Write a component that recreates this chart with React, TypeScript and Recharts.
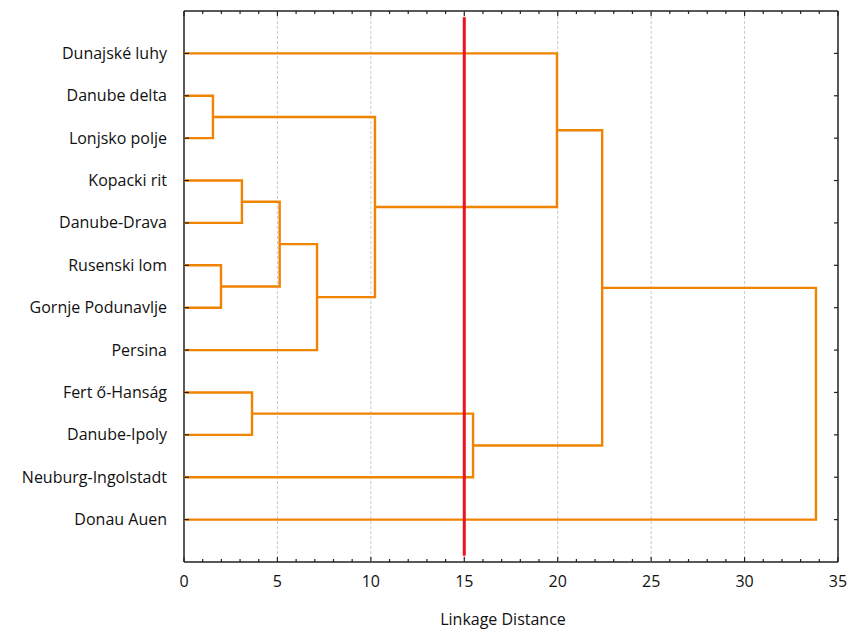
import React from 'react';
import { ScatterChart, Scatter, XAxis, YAxis } from 'recharts';

// Leaves, top to bottom
const leafNames = [
  'Dunajské luhy',
  'Danube delta',
  'Lonjsko polje',
  'Kopacki rit',
  'Danube-Drava',
  'Rusenski lom',
  'Gornje Podunavlje',
  'Persina',
  'Fert ő-Hanság',
  'Danube-Ipoly',
  'Neuburg-Ingolstadt',
  'Donau Auen',
];

// Merges: node ids 0..11 are leaves, merge k creates node 12+k
const mergeLeft = [1, 3, 5, 13, 15, 12, 0, 8, 19, 18, 21];
const mergeRight = [2, 4, 6, 14, 7, 16, 17, 9, 10, 20, 11];
const mergeHeight = [1.55, 3.1, 1.98, 5.12, 7.12, 10.22, 19.96, 3.64, 15.47, 22.38, 33.82];

const cutDistance = 15;
const xMinorTicks = [
  0, 1, 2, 3, 4, 5, 6, 7, 8, 9, 10, 11, 12, 13, 14, 15, 16, 17,
  18, 19, 20, 21, 22, 23, 24, 25, 26, 27, 28, 29, 30, 31, 32, 33, 34, 35,
];
const yTicks = [1, 2, 3, 4, 5, 6, 7, 8, 9, 10, 11, 12];
const gridValues = [5, 10, 15, 20, 25, 30];

const ORANGE = '#F08300';
const RED = '#EC1220';
const AXIS = '#222';
const FONT = '"Open Sans", sans-serif';

// Build node positions (y) and heights (x)
const nodeY: number[] = leafNames.map((_, i) => i + 1);
const nodeH: number[] = leafNames.map(() => 0);
mergeLeft.forEach((l, k) => {
  const r = mergeRight[k];
  nodeY.push((nodeY[l] + nodeY[r]) / 2);
  nodeH.push(mergeHeight[k]);
});
const links = mergeLeft.map((l, k) => {
  const r = mergeRight[k];
  const h = mergeHeight[k];
  return [
    { x: nodeH[l], y: nodeY[l] },
    { x: h, y: nodeY[l] },
    { x: h, y: nodeY[r] },
    { x: nodeH[r], y: nodeY[r] },
  ];
});

const gridLines = gridValues.map((v) => [
  { x: v, y: 0 },
  { x: v, y: 13 },
]);
const cutLine = [
  { x: cutDistance, y: 0.15 },
  { x: cutDistance, y: 12.85 },
];

const NoShape = () => <g />;

const BottomTick = (props: any) => {
  const { x, y, payload } = props;
  const major = payload.value % 5 === 0;
  return (
    <g>
      <line x1={x} x2={x} y1={y} y2={y - (major ? 5 : 3)} stroke={AXIS} strokeWidth={1.2} />
      {major && (
        <text x={x} y={y + 25} textAnchor="middle" fontSize={16} fontFamily={FONT} fill="#111">
          {payload.value}
        </text>
      )}
    </g>
  );
};

const TopTick = (props: any) => {
  const { x, y, payload } = props;
  const major = payload.value % 5 === 0;
  return <line x1={x} x2={x} y1={y} y2={y + (major ? 5 : 3)} stroke={AXIS} strokeWidth={1.2} />;
};

const LeftTick = (props: any) => {
  const { x, y, payload } = props;
  return (
    <g>
      <line x1={x} x2={x + 5} y1={y} y2={y} stroke={AXIS} strokeWidth={1.2} />
      <text x={x - 17} y={y + 5.5} textAnchor="end" fontSize={16} fontFamily={FONT} fill="#111">
        {leafNames[payload.value - 1]}
      </text>
    </g>
  );
};

const RightTick = (props: any) => {
  const { x, y } = props;
  return <line x1={x} x2={x - 4} y1={y} y2={y} stroke={AXIS} strokeWidth={1.2} />;
};

export default function App() {
  return (
    <div style={{ width: 850, height: 629, background: '#fff' }}>
      <style>{'html,body{margin:0;padding:0;overflow:hidden;background:#fff}'}</style>
      <ScatterChart width={850} height={629} margin={{ top: 10, right: 11, left: 0, bottom: 0 }}>
        <XAxis
          xAxisId="b"
          type="number"
          dataKey="x"
          domain={[0, 35]}
          allowDataOverflow
          ticks={xMinorTicks}
          interval={0}
          tickSize={0}
          tickMargin={0}
          tickLine={false}
          tick={BottomTick}
          axisLine={{ stroke: AXIS, strokeWidth: 1.5 }}
          height={67}
          label={{
            value: 'Linkage Distance',
            position: 'insideBottom',
            offset: 4,
            dx: -8,
            fontSize: 16,
            fontFamily: FONT,
            fill: '#111',
          }}
        />
        <XAxis
          xAxisId="t"
          orientation="top"
          type="number"
          dataKey="x"
          domain={[0, 35]}
          allowDataOverflow
          ticks={xMinorTicks}
          interval={0}
          tickSize={0}
          tickMargin={0}
          tickLine={false}
          tick={TopTick}
          axisLine={{ stroke: AXIS, strokeWidth: 1.5 }}
          height={1}
        />
        <YAxis
          yAxisId="l"
          type="number"
          dataKey="y"
          domain={[0, 13]}
          allowDataOverflow
          reversed
          ticks={yTicks}
          interval={0}
          tickSize={0}
          tickMargin={0}
          tickLine={false}
          tick={LeftTick}
          axisLine={{ stroke: AXIS, strokeWidth: 1.5 }}
          width={184}
        />
        <YAxis
          yAxisId="r"
          orientation="right"
          type="number"
          dataKey="y"
          domain={[0, 13]}
          allowDataOverflow
          reversed
          ticks={yTicks}
          interval={0}
          tickSize={0}
          tickMargin={0}
          tickLine={false}
          tick={RightTick}
          axisLine={{ stroke: AXIS, strokeWidth: 1.5 }}
          width={1}
        />
        <Scatter
          xAxisId="t"
          yAxisId="r"
          data={cutLine}
          shape={NoShape}
          isAnimationActive={false}
          legendType="none"
        />
        {gridLines.map((pts, i) => (
          <Scatter
            key={'g' + i}
            xAxisId="b"
            yAxisId="l"
            data={pts}
            line={{ stroke: '#c8c8c8', strokeWidth: 1, strokeDasharray: '3 2' }}
            shape={NoShape}
            isAnimationActive={false}
            legendType="none"
          />
        ))}
        {links.map((pts, i) => (
          <Scatter
            key={'l' + i}
            xAxisId="b"
            yAxisId="l"
            data={pts}
            line={{ stroke: ORANGE, strokeWidth: 2.4 }}
            shape={NoShape}
            isAnimationActive={false}
            legendType="none"
          />
        ))}
        <Scatter
          xAxisId="b"
          yAxisId="l"
          data={cutLine}
          line={{ stroke: RED, strokeWidth: 3 }}
          shape={NoShape}
          isAnimationActive={false}
          legendType="none"
        />
      </ScatterChart>
    </div>
  );
}
